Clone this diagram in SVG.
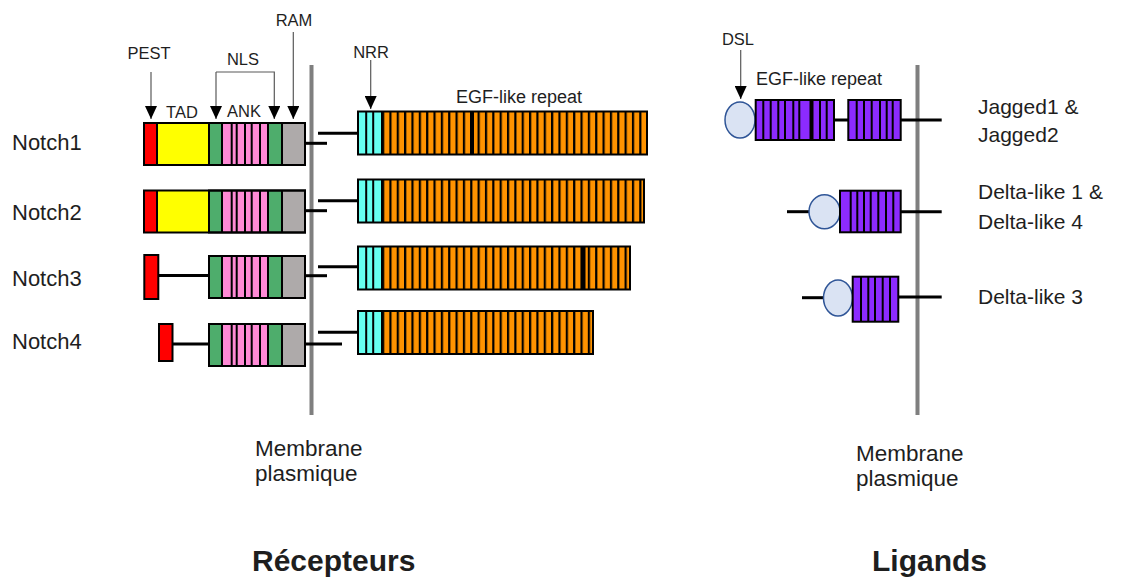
<svg xmlns="http://www.w3.org/2000/svg" width="1123" height="579" viewBox="0 0 1123 579">
<defs>
<marker id="ah" viewBox="0 0 13 12" refX="13" refY="6" markerWidth="13" markerHeight="12" markerUnits="userSpaceOnUse" orient="auto"><path d="M0,0 L13,6 L0,12 z" fill="#000"/></marker>
<pattern id="egfp" patternUnits="userSpaceOnUse" x="382" y="0" width="7.35" height="20"><rect width="7.35" height="20" fill="#ff9300"/><rect x="0" y="0" width="2.2" height="20" fill="#000"/></pattern>
<g id="ank">
<rect x="209" y="0" width="13" height="42" fill="#4ead6c"/>
<rect x="222" y="0" width="46" height="42" fill="#ff8ad6"/>
<rect x="268" y="0" width="14" height="42" fill="#4ead6c"/>
<rect x="282" y="0" width="23" height="42" fill="#aeaaaa"/>
<path d="M222,0V42M231.7,0V42M236.7,0V42M245,0V42M251.7,0V42M260,0V42M268,0V42M282,0V42" stroke="#000" stroke-width="2"/>
<rect x="209" y="0" width="96" height="42" fill="none" stroke="#000" stroke-width="2"/>
</g>
<g id="nrr">
<rect x="358" y="0" width="24" height="43" fill="#66fff0"/>
<path d="M366.2,0V43M373.2,0V43M382,0V43" stroke="#000" stroke-width="2"/>
</g>
<g id="icd12">
<rect x="144" y="0" width="13" height="42" fill="#ff0000"/>
<rect x="157" y="0" width="52" height="42" fill="#ffff00"/>
<use href="#ank"/>
<path d="M157,0V42" stroke="#000" stroke-width="2"/>
<rect x="144" y="0" width="161" height="42" fill="none" stroke="#000" stroke-width="2"/>
</g>
</defs>
<style>
.t{font-family:"Liberation Sans",Arial,sans-serif;fill:#1e1e1e}
.lab{font-size:21px}
.nl{font-size:22px}
.mt{font-size:22.5px}
.sm{font-size:16.5px;text-anchor:middle}
.egf{font-size:18px}
.title{font-size:30px;font-weight:bold}
.mem{stroke:#7f7f7f;stroke-width:4}
.bx{fill:none;stroke:#000;stroke-width:2}
.ln{stroke:#000;stroke-width:3;fill:none}
.arr{stroke:#595959;stroke-width:1.2;fill:none;marker-end:url(#ah)}
.red{fill:#ff0000;stroke:#000;stroke-width:2}
.pur{fill:#8c2bff;stroke:#000;stroke-width:2}
.st{stroke:#000;stroke-width:2;fill:none}
.dsl{fill:#dae3f3;stroke:#2f5597;stroke-width:1.5}
.egfb{fill:url(#egfp)}
</style>

<g id="membranes">
<line class="mem" x1="311.5" y1="65" x2="311.5" y2="415"/>
<line class="mem" x1="917.5" y1="65" x2="917.5" y2="415"/>
</g>

<g id="connectors">
<line class="ln" x1="318" y1="133.3" x2="358" y2="133.3"/>
<line class="ln" x1="305" y1="143.3" x2="327" y2="143.3"/>
<line class="ln" x1="318" y1="200.7" x2="358" y2="200.7"/>
<line class="ln" x1="305" y1="210.7" x2="327" y2="210.7"/>
<line class="ln" x1="158" y1="275.5" x2="209" y2="275.5"/>
<line class="ln" x1="318" y1="266.7" x2="358" y2="266.7"/>
<line class="ln" x1="305" y1="275.7" x2="327" y2="275.7"/>
<line class="ln" x1="172" y1="344" x2="209" y2="344"/>
<line class="ln" x1="318" y1="332.3" x2="358" y2="332.3"/>
<line class="ln" x1="305" y1="344" x2="342" y2="344"/>
<line class="ln" x1="834" y1="120" x2="848" y2="120"/>
<line class="ln" x1="900.7" y1="120" x2="941.7" y2="120"/>
<line class="ln" x1="787" y1="211.7" x2="809" y2="211.7"/>
<line class="ln" x1="900.7" y1="211.7" x2="941.7" y2="211.7"/>
<line class="ln" x1="802" y1="297.7" x2="823.5" y2="297.7"/>
<line class="ln" x1="898" y1="297" x2="941.7" y2="297"/>
<line class="arr" x1="151" y1="72" x2="151" y2="119"/>
<path class="arr" d="M216,72H274.3V119"/>
<line class="arr" x1="216" y1="72" x2="216" y2="119"/>
<line class="arr" x1="293.3" y1="32" x2="293.3" y2="119"/>
<line class="arr" x1="370.7" y1="60" x2="370.7" y2="109"/>
<line class="arr" x1="740.7" y1="50" x2="740.7" y2="99"/>
</g>

<g id="domain-labels">
<text class="t sm" x="149" y="59">PEST</text>
<text class="t sm" x="182" y="118">TAD</text>
<text class="t sm" x="243" y="65">NLS</text>
<text class="t sm" x="244" y="117">ANK</text>
<text class="t sm" x="294" y="26">RAM</text>
<text class="t sm" x="371" y="58">NRR</text>
<text class="t egf" x="519" y="103" text-anchor="middle">EGF-like repeat</text>
<text class="t sm" x="738" y="45">DSL</text>
<text class="t egf" x="819" y="85" text-anchor="middle">EGF-like repeat</text>
</g>

<g id="notch1">
<text class="t nl" x="12" y="150">Notch1</text>
<use href="#icd12" transform="translate(0,123)"/>
<use href="#nrr" transform="translate(0,111.5)"/>
<rect class="egfb" x="382" y="111.5" width="265" height="43"/>
<rect x="470" y="111.5" width="4" height="43" fill="#000"/>
<rect class="bx" x="358" y="111.5" width="289" height="43"/>
</g>

<g id="notch2">
<text class="t nl" x="12" y="220">Notch2</text>
<use href="#icd12" transform="translate(0,190.5)"/>
<use href="#nrr" transform="translate(0,179.5)"/>
<rect class="egfb" x="382" y="179.5" width="262" height="43"/>
<rect class="bx" x="358" y="179.5" width="286" height="43"/>
</g>

<g id="notch3">
<text class="t nl" x="12" y="285.5">Notch3</text>
<rect class="red" x="144.3" y="255" width="14" height="44"/>
<use href="#ank" transform="translate(0,256)"/>
<use href="#nrr" transform="translate(0,246.5)"/>
<rect class="egfb" x="382" y="246.5" width="248" height="43"/>
<rect x="581" y="246.5" width="4.5" height="43" fill="#000"/>
<rect class="bx" x="358" y="246.5" width="272" height="43"/>
</g>

<g id="notch4">
<text class="t nl" x="12" y="348.5">Notch4</text>
<rect class="red" x="159" y="324" width="13.5" height="37"/>
<use href="#ank" transform="translate(0,324)"/>
<use href="#nrr" transform="translate(0,311)"/>
<rect class="egfb" x="382" y="311" width="211" height="43"/>
<rect class="bx" x="358" y="311" width="235" height="43"/>
</g>

<g id="jagged">
<ellipse class="dsl" cx="740" cy="120" rx="15" ry="18"/>
<rect class="pur" x="755.7" y="100" width="78.3" height="40"/>
<path class="st" d="M763.3,100V140M770.7,100V140M778.3,100V140M785,100V140M793.3,100V140M799.3,100V140M820,100V140M826.7,100V140"/>
<rect x="809.5" y="100" width="4" height="40" fill="#000"/>
<rect class="pur" x="848.3" y="100" width="52.4" height="40"/>
<path class="st" d="M856.7,100V140M864,100V140M871.7,100V140M880,100V140M886.7,100V140M892.7,100V140"/>
<text class="t lab" x="978" y="114">Jagged1 &amp;</text>
<text class="t lab" x="978" y="142">Jagged2</text>
</g>

<g id="delta1-4">
<ellipse class="dsl" cx="824.5" cy="211.7" rx="15.5" ry="17"/>
<rect class="pur" x="840" y="190.7" width="60.7" height="41.6"/>
<path class="st" d="M850.7,190.7V232.3M857.3,190.7V232.3M864,190.7V232.3M870.7,190.7V232.3M878.3,190.7V232.3M886,190.7V232.3M893.3,190.7V232.3"/>
<text class="t lab" x="978" y="199">Delta-like 1 &amp;</text>
<text class="t lab" x="978" y="229">Delta-like 4</text>
</g>

<g id="delta3">
<ellipse class="dsl" cx="838" cy="298" rx="14.5" ry="18"/>
<rect class="pur" x="852.7" y="276.7" width="45.6" height="45"/>
<path class="st" d="M861,276.7V321.7M868.3,276.7V321.7M875,276.7V321.7M882.7,276.7V321.7M890,276.7V321.7"/>
<text class="t lab" x="978" y="304">Delta-like 3</text>
</g>

<g id="membrane-labels">
<text class="t mt" x="255" y="456">Membrane</text>
<text class="t mt" x="255" y="481">plasmique</text>
<text class="t mt" x="856" y="461">Membrane</text>
<text class="t mt" x="856" y="486">plasmique</text>
</g>

<g id="titles">
<text class="t title" x="252" y="571">Récepteurs</text>
<text class="t title" x="872" y="571">Ligands</text>
</g>
</svg>
